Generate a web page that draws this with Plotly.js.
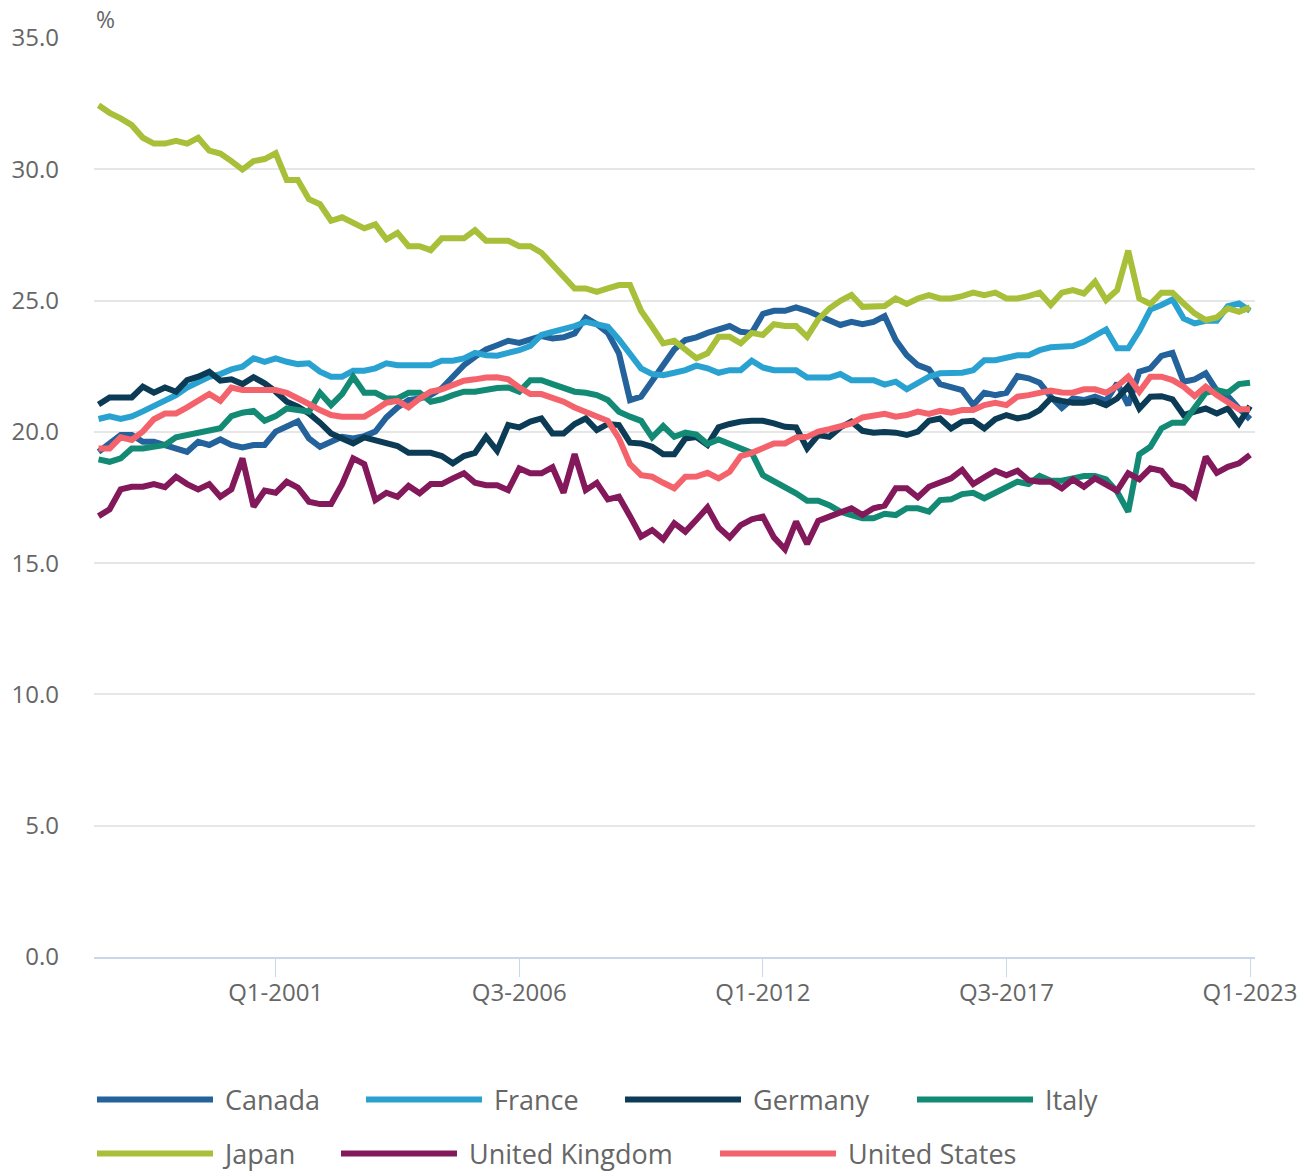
<!DOCTYPE html>
<html><head><meta charset="utf-8">
<script src="https://cdn.plot.ly/plotly-3.0.1.min.js"></script>
<style>html,body{margin:0;padding:0;background:#fff}#chart{width:1311px;height:1171px}</style>
</head><body><div id="chart"></div><script>
const quarters = [];
for (let y = 1997; y <= 2023; y++) for (let q = 1; q <= 4; q++) { if (y === 2023 && q > 1) break; quarters.push('Q' + q + '-' + y); }

const canada = [19.24,19.59,19.88,19.88,19.62,19.62,19.50,19.37,19.24,19.62,
 19.50,19.71,19.50,19.41,19.50,19.50,20.01,20.20,20.40,19.75,
 19.43,19.62,19.81,19.75,19.84,20.01,20.55,20.93,21.21,21.27,
 21.40,21.66,22.10,22.54,22.86,23.14,23.30,23.47,23.39,23.52,
 23.65,23.56,23.60,23.75,24.35,24.10,23.77,22.99,21.21,21.34,
 21.95,22.63,23.14,23.50,23.60,23.77,23.90,24.03,23.81,23.77,
 24.49,24.61,24.61,24.74,24.61,24.45,24.26,24.07,24.19,24.10,
 24.19,24.41,23.50,22.92,22.54,22.38,21.82,21.72,21.59,21.02,
 21.49,21.40,21.49,22.12,22.04,21.87,21.34,20.91,21.27,21.21,
 21.34,21.18,21.85,21.02,22.29,22.42,22.89,23.01,21.91,22.00,
 22.23,21.57,21.36,20.89,20.48];
const france = [20.49,20.59,20.49,20.59,20.78,20.99,21.20,21.40,21.69,21.91,
 22.10,22.20,22.38,22.48,22.80,22.67,22.80,22.67,22.58,22.61,
 22.29,22.10,22.10,22.33,22.33,22.42,22.61,22.54,22.54,22.54,
 22.54,22.71,22.71,22.80,23.01,22.92,22.90,23.01,23.11,23.27,
 23.69,23.81,23.90,24.03,24.19,24.10,24.00,23.52,22.99,22.42,
 22.20,22.16,22.25,22.35,22.52,22.42,22.25,22.35,22.35,22.71,
 22.45,22.35,22.35,22.35,22.07,22.07,22.07,22.20,21.97,21.97,
 21.97,21.80,21.91,21.62,21.87,22.10,22.23,22.23,22.25,22.35,
 22.73,22.73,22.83,22.92,22.92,23.11,23.22,23.27,23.27,23.43,
 23.65,23.90,23.18,23.18,23.85,24.66,24.83,25.04,24.32,24.13,
 24.23,24.23,24.79,24.89,24.61];
const germany = [21.04,21.31,21.31,21.31,21.72,21.49,21.69,21.53,21.97,22.10,
 22.29,21.95,22.00,21.82,22.08,21.85,21.53,21.15,20.96,20.70,
 20.35,19.94,19.75,19.56,19.79,19.69,19.59,19.46,19.20,19.20,
 19.20,19.08,18.80,19.08,19.20,19.81,19.28,20.26,20.17,20.39,
 20.51,19.94,19.94,20.30,20.51,20.07,20.30,20.26,19.59,19.56,
 19.43,19.15,19.15,19.75,19.80,19.50,20.17,20.30,20.39,20.42,
 20.42,20.32,20.19,20.17,19.37,19.88,19.81,20.17,20.39,20.04,
 19.97,19.99,19.97,19.88,20.01,20.42,20.51,20.13,20.39,20.42,
 20.13,20.48,20.64,20.51,20.60,20.83,21.27,21.18,21.11,21.11,
 21.18,21.02,21.27,21.74,20.89,21.34,21.36,21.24,20.64,20.77,
 20.89,20.70,20.89,20.32,20.98];
const italy = [18.95,18.86,18.99,19.37,19.37,19.41,19.50,19.79,19.88,20.01,
 20.10,20.14,20.60,20.73,20.80,20.42,20.60,20.89,20.83,20.77,
 21.49,21.02,21.44,22.10,21.49,21.49,21.27,21.27,21.49,21.49,
 21.15,21.24,21.40,21.53,21.53,21.62,21.67,21.69,21.53,21.97,
 21.97,21.82,21.69,21.53,21.49,21.40,21.21,20.77,20.58,20.42,
 19.79,20.22,19.81,19.97,19.90,19.54,19.71,19.54,19.43,19.20,
 18.35,18.14,17.91,17.66,17.38,17.38,17.21,16.96,16.83,16.71,
 16.71,16.88,16.83,17.09,17.09,16.96,17.40,17.43,17.63,17.68,
 17.47,17.68,17.89,18.10,18.01,18.32,18.14,18.14,18.23,18.32,
 18.32,18.19,17.72,16.96,19.15,19.43,20.13,20.35,20.35,20.89,
 21.49,21.59,21.49,21.82,21.87];
const japan = [32.44,32.15,31.94,31.68,31.20,30.98,30.98,31.08,30.98,31.20,
 30.71,30.60,30.31,29.99,30.31,30.39,30.61,29.59,29.59,28.86,
 28.67,28.04,28.17,27.96,27.75,27.90,27.33,27.58,27.07,27.07,
 26.92,27.37,27.37,27.37,27.68,27.28,27.28,27.28,27.07,27.07,
 26.82,26.35,25.88,25.46,25.46,25.33,25.46,25.59,25.59,24.61,
 24.00,23.37,23.47,23.11,22.80,22.99,23.62,23.62,23.37,23.77,
 23.69,24.10,24.03,24.03,23.62,24.28,24.70,24.99,25.21,24.76,
 24.76,24.79,25.08,24.87,25.08,25.21,25.08,25.08,25.17,25.30,
 25.21,25.30,25.08,25.08,25.17,25.30,24.83,25.30,25.40,25.27,
 25.72,25.02,25.40,26.90,25.08,24.87,25.30,25.30,24.89,24.51,
 24.26,24.36,24.70,24.57,24.74];
const uk = [16.79,17.05,17.81,17.91,17.91,18.01,17.89,18.29,18.01,17.81,
 18.01,17.53,17.81,18.99,17.15,17.76,17.68,18.10,17.88,17.34,
 17.25,17.25,18.01,18.99,18.77,17.40,17.68,17.53,17.94,17.66,
 18.01,18.01,18.23,18.42,18.06,17.97,17.97,17.78,18.61,18.42,
 18.42,18.65,17.68,19.15,17.78,18.06,17.43,17.53,16.79,16.01,
 16.26,15.91,16.52,16.20,16.65,17.12,16.36,15.98,16.45,16.67,
 16.77,15.98,15.53,16.58,15.73,16.61,16.77,16.90,17.09,16.83,
 17.09,17.19,17.85,17.85,17.51,17.91,18.10,18.23,18.55,18.01,
 18.27,18.52,18.35,18.52,18.16,18.10,18.10,17.85,18.19,17.91,
 18.23,18.01,17.76,18.42,18.19,18.61,18.52,18.01,17.89,17.53,
 19.05,18.44,18.67,18.80,19.12];
const us = [19.37,19.37,19.79,19.69,20.01,20.48,20.70,20.70,20.93,21.21,
 21.44,21.18,21.69,21.59,21.59,21.59,21.59,21.49,21.30,21.06,
 20.83,20.64,20.58,20.58,20.58,20.83,21.11,21.18,20.93,21.27,
 21.53,21.62,21.78,21.95,22.00,22.07,22.08,22.00,21.69,21.44,
 21.44,21.31,21.15,20.93,20.77,20.60,20.42,19.75,18.77,18.35,
 18.29,18.06,17.85,18.29,18.30,18.44,18.23,18.48,19.08,19.20,
 19.41,19.56,19.56,19.79,19.81,20.01,20.10,20.19,20.32,20.55,
 20.64,20.69,20.58,20.64,20.77,20.68,20.80,20.73,20.83,20.83,
 21.02,21.11,21.02,21.34,21.40,21.49,21.57,21.50,21.49,21.62,
 21.62,21.49,21.74,22.10,21.53,22.10,22.10,21.97,21.72,21.36,
 21.72,21.40,21.11,20.86,20.86];

const tickQuarters = ['Q1-2001','Q3-2006','Q1-2012','Q3-2017','Q1-2023'];
const seriesNames = ['Canada','France','Germany','Italy','Japan','United Kingdom','United States'];
const seriesValues = [canada, france, germany, italy, japan, uk, us];
const seriesColors = ['#23629b','#2aa2d1','#0c3b56','#128a74','#a8bf39','#83185a','#f4636b'];
const legendIds = ['legend','legend2','legend3','legend4','legend5','legend6','legend7'];

const traces = seriesNames.map((n, i) => ({
  type: 'scatter', mode: 'lines', name: '\u00A0' + n, x: quarters, y: seriesValues[i],
  line: {color: seriesColors[i], width: 6}, legend: legendIds[i], hoverinfo: 'x+y+name'
}));

const W = 1311, H = 1171, L = 94, R = 56, T = 38, B = 214;
const pw = W - L - R, ph = H - T - B;
const legPos = [[97,1100],[366,1100],[625,1100],[917,1100],[97,1154],[341,1154],[720,1154]];
const legendFont = {family: 'Open Sans', size: 27, color: '#666'};
const tickFont = {family: 'Open Sans', size: 24, color: '#666'};

const layout = {
  width: W, height: H,
  margin: {l: L, r: R, t: T, b: B, autoexpand: false},
  paper_bgcolor: '#fff', plot_bgcolor: '#fff',
  font: {family: 'Open Sans', size: 24, color: '#666'},
  showlegend: true,
  xaxis: {
    type: 'category', range: [-0.41, 104.45],
    tickmode: 'array', tickvals: tickQuarters, ticktext: tickQuarters,
    showgrid: false, zeroline: false,
    showline: true, linecolor: '#ccd6eb', linewidth: 2,
    ticks: 'outside', ticklen: 18, tickwidth: 1, tickcolor: '#ccd6eb',
    ticklabelstandoff: -5,
    tickfont: tickFont
  },
  yaxis: {
    range: [0, 35], tickmode: 'linear', tick0: 0, dtick: 5, tickformat: '.1f',
    showgrid: true, gridcolor: '#e6e6e6', gridwidth: 2,
    zeroline: false, showline: false, ticks: '',
    ticklabelstandoff: 34,
    tickfont: tickFont
  },
  annotations: [{
    text: '%', xref: 'paper', yref: 'paper', x: 0, y: 1, xanchor: 'left', yanchor: 'bottom',
    showarrow: false, font: {family: 'Open Sans', size: 23, color: '#666'}, yshift: 1
  }]
};
legendIds.forEach((id, i) => {
  layout[id] = {
    orientation: 'h', x: (legPos[i][0] - 5 - L) / pw, xanchor: 'left',
    y: (T + ph - legPos[i][1]) / ph, yanchor: 'middle',
    font: legendFont, itemwidth: 116, bgcolor: 'rgba(0,0,0,0)', borderwidth: 0
  };
});

Plotly.newPlot('chart', traces, layout, {displayModeBar: false, staticPlot: true});
</script></body></html>
